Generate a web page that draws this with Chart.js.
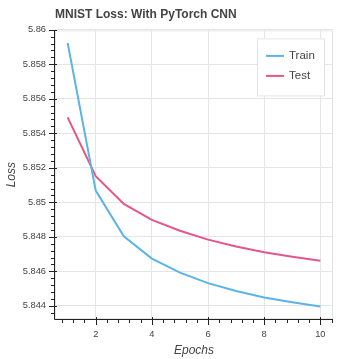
<!DOCTYPE html>
<html>
<head>
<meta charset="utf-8">
<script src="https://cdn.jsdelivr.net/npm/chart.js@4"></script>
<style>
  body { margin: 0; background: #fff; }
</style>
</head>
<body>
<canvas id="lossChart" width="359" height="359"></canvas>
<script>
// values
const epochs = [1, 2, 3, 4, 5, 6, 7, 8, 9, 10];
const trainLoss = [5.85924, 5.85068, 5.84803, 5.84674, 5.84593, 5.84532, 5.84486, 5.84449, 5.84421, 5.84396];
const testLoss = [5.85492, 5.85151, 5.84991, 5.84898, 5.84835, 5.84784, 5.84744, 5.84711, 5.84685, 5.84662];
const xTicks = [2, 4, 6, 8, 10];
const yTicks = [5.844, 5.846, 5.848, 5.85, 5.852, 5.854, 5.856, 5.858, 5.86];

const FONT = "'Liberation Sans', Helvetica, Arial, sans-serif";
const TEXT = '#444';
const GRID = '#e5e5e5';

// bokeh style axes: black axis line, major ticks (2 in / 6 out), minor ticks (4 out)
const axesPlugin = {
  id: 'axes',
  beforeDatasetsDraw(chart) {
    const { ctx, chartArea: a } = chart;
    ctx.save();
    ctx.strokeStyle = GRID;
    ctx.lineWidth = 1;
    ctx.strokeRect(a.left + 0.5, a.top + 0.5, a.right - a.left - 1, a.bottom - a.top - 1);
    ctx.restore();
  },
  afterDraw(chart) {
    const { ctx, chartArea: a } = chart;
    const xs = chart.scales.x, ys = chart.scales.y;
    ctx.save();
    ctx.strokeStyle = '#222';
    ctx.lineWidth = 1;
    ctx.beginPath();
    ctx.moveTo(a.left - 0.5, a.top);
    ctx.lineTo(a.left - 0.5, a.bottom + 0.5);
    ctx.lineTo(a.right, a.bottom + 0.5);
    ctx.stroke();

    ctx.beginPath();
    xTicks.forEach(v => {
      const px = Math.round(xs.getPixelForValue(v)) + 0.5;
      ctx.moveTo(px, a.bottom - 2);
      ctx.lineTo(px, a.bottom + 6);
    });
    for (let v = 0.8; v < xs.max; v += 0.4) {
      if (Math.abs(v / 2 - Math.round(v / 2)) < 1e-6) continue;
      const px = Math.round(xs.getPixelForValue(v)) + 0.5;
      ctx.moveTo(px, a.bottom);
      ctx.lineTo(px, a.bottom + 4);
    }
    yTicks.forEach(v => {
      const py = Math.round(ys.getPixelForValue(v)) + 0.5;
      ctx.moveTo(a.left + 2, py);
      ctx.lineTo(a.left - 6, py);
    });
    for (let i = 0; ; i++) {
      const v = 5.8436 + i * 0.0004;
      if (v > ys.max) break;
      if (i % 5 === 1) continue;
      const py = Math.round(ys.getPixelForValue(v)) + 0.5;
      ctx.moveTo(a.left, py);
      ctx.lineTo(a.left - 4, py);
    }
    ctx.stroke();
    ctx.restore();
  }
};

// legend box inside the top right corner of the plot
const legendPlugin = {
  id: 'boxLegend',
  afterDatasetsDraw(chart) {
    const { ctx, chartArea: a } = chart;
    const w = 67, h = 57;
    const x = a.right - 9 - w, y = a.top + 8;
    ctx.save();
    ctx.fillStyle = '#fff';
    ctx.fillRect(x, y, w, h);
    ctx.strokeStyle = GRID;
    ctx.strokeRect(x + 0.5, y + 0.5, w, h);
    ctx.font = '11.5px ' + FONT;
    ctx.textBaseline = 'middle';
    chart.data.datasets.forEach((ds, i) => {
      const ly = y + 17.5 + i * 20;
      ctx.strokeStyle = ds.borderColor;
      ctx.lineWidth = 2;
      ctx.beginPath();
      ctx.moveTo(x + 9, ly);
      ctx.lineTo(x + 27, ly);
      ctx.stroke();
      ctx.fillStyle = TEXT;
      ctx.fillText(ds.label, x + 32, ly);
    });
    ctx.restore();
  }
};

new Chart(document.getElementById('lossChart'), {
  type: 'line',
  data: {
    labels: epochs,
    datasets: [
      {
        label: 'Train',
        data: epochs.map((e, i) => ({ x: e, y: trainLoss[i] })),
        borderColor: '#5ab4e6',
        borderWidth: 2,
        pointRadius: 0,
        tension: 0
      },
      {
        label: 'Test',
        data: epochs.map((e, i) => ({ x: e, y: testLoss[i] })),
        borderColor: '#e5568a',
        borderWidth: 2,
        pointRadius: 0,
        tension: 0
      }
    ]
  },
  options: {
    responsive: false,
    animation: false,
    layout: { padding: { left: 0, right: 26, top: 0, bottom: 0 } },
    plugins: {
      legend: { display: false },
      tooltip: { enabled: false },
      title: {
        display: true,
        text: 'MNIST Loss: With PyTorch CNN',
        align: 'start',
        fullSize: false,
        color: TEXT,
        font: { family: FONT, size: 12, weight: 'bold' },
        padding: { top: 7, bottom: 9 }
      }
    },
    scales: {
      x: {
        type: 'linear',
        min: 0.55,
        max: 10.45,
        afterBuildTicks: s => { s.ticks = xTicks.map(v => ({ value: v })); },
        afterFit: s => { s.height = 40; },
        grid: { color: GRID, drawTicks: false },
        border: { display: false },
        ticks: {
          autoSkip: false,
          maxRotation: 0,
          padding: 10,
          color: TEXT,
          font: { family: FONT, size: 9.3 },
          callback: v => String(v)
        },
        title: {
          display: true,
          text: 'Epochs',
          color: TEXT,
          font: { family: FONT, size: 12, style: 'italic' },
          padding: { top: 0, bottom: 1 }
        }
      },
      y: {
        type: 'linear',
        min: 5.84324,
        max: 5.85996,
        afterBuildTicks: s => { s.ticks = yTicks.map(v => ({ value: v })); },
        afterFit: s => { s.width = 55; },
        grid: { color: GRID, drawTicks: false },
        border: { display: false },
        ticks: {
          autoSkip: false,
          padding: 9,
          color: TEXT,
          font: { family: FONT, size: 9.3 },
          callback: v => String(parseFloat(v.toFixed(3)))
        },
        title: {
          display: true,
          text: 'Loss',
          color: TEXT,
          font: { family: FONT, size: 12, style: 'italic' },
          padding: { top: 4, bottom: 0 }
        }
      }
    }
  },
  plugins: [axesPlugin, legendPlugin]
});
</script>
</body>
</html>
